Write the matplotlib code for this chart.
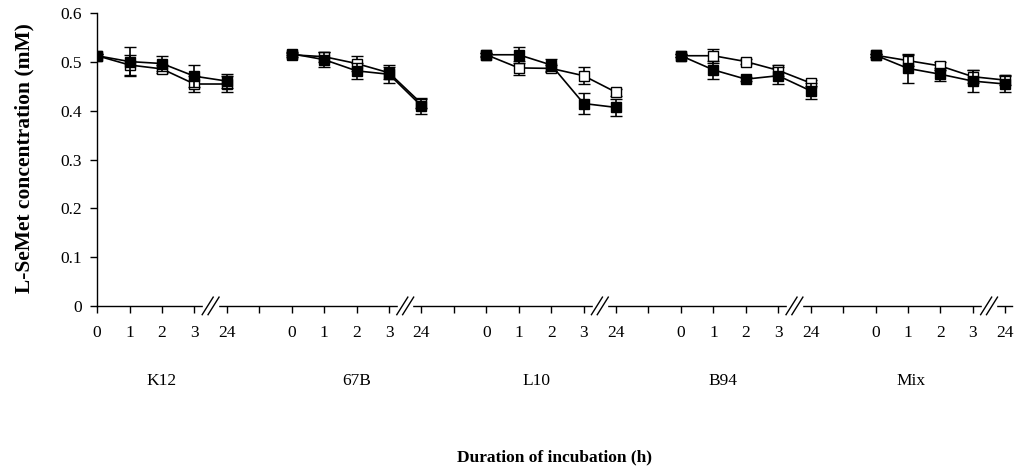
import numpy as np
import matplotlib
matplotlib.use("Agg")
from matplotlib import pyplot as plt
from matplotlib.transforms import blended_transform_factory

plt.rcParams['font.family'] = ['Liberation Serif', 'DejaVu Serif']

strains = ["K12", "67B", "L10", "B94", "Mix"]
times = ["0", "1", "2", "3", "24"]

# open squares
open_mean = [
    [0.513, 0.494, 0.486, 0.455, 0.455],
    [0.515, 0.511, 0.497, 0.478, 0.415],
    [0.515, 0.488, 0.487, 0.472, 0.438],
    [0.513, 0.513, 0.501, 0.483, 0.457],
    [0.514, 0.503, 0.492, 0.470, 0.463],
]
open_err = [
    [0.003, 0.020, 0.008, 0.016, 0.016],
    [0.004, 0.010, 0.016, 0.012, 0.010],
    [0.004, 0.015, 0.008, 0.017, 0.007],
    [0.003, 0.014, 0.005, 0.011, 0.007],
    [0.003, 0.011, 0.009, 0.013, 0.010],
]
# filled squares
filled_mean = [
    [0.513, 0.501, 0.497, 0.471, 0.461],
    [0.517, 0.505, 0.482, 0.475, 0.410],
    [0.515, 0.515, 0.494, 0.415, 0.407],
    [0.513, 0.484, 0.465, 0.472, 0.441],
    [0.514, 0.487, 0.475, 0.461, 0.455],
]
filled_err = [
    [0.003, 0.030, 0.015, 0.023, 0.014],
    [0.003, 0.016, 0.017, 0.018, 0.017],
    [0.003, 0.016, 0.012, 0.021, 0.018],
    [0.003, 0.018, 0.004, 0.018, 0.017],
    [0.003, 0.030, 0.013, 0.022, 0.016],
]

slots_per_group = len(times) + 1
last_slot = slots_per_group * len(strains) - 2   # 28

fig = plt.figure(figsize=(10.22, 4.75), dpi=100)
ax = fig.add_axes([0.095, 0.356, 0.895, 0.616])

for g in range(len(strains)):
    x = g * slots_per_group + np.arange(len(times))
    ax.errorbar(x, open_mean[g], yerr=open_err[g], color='black', lw=1.2,
                marker='s', ms=6.5, mfc='white', mec='black', mew=1.0,
                capsize=4, capthick=1.2, elinewidth=1.2, zorder=3)
    ax.errorbar(x, filled_mean[g], yerr=filled_err[g], color='black', lw=1.2,
                marker='s', ms=6.5, mfc='black', mec='black', mew=1.0,
                capsize=4, capthick=1.2, elinewidth=1.2, zorder=4)

ax.set_xlim(0, last_slot + 0.2)
ax.set_ylim(0, 0.6)
ax.set_yticks(np.arange(0, 0.61, 0.1))
ax.set_yticklabels(["0", "0.1", "0.2", "0.3", "0.4", "0.5", "0.6"])
ax.set_xticks(np.arange(last_slot + 1))
labels = (times + [""]) * len(strains)
ax.set_xticklabels(labels[:last_slot + 1])
ax.tick_params(axis='both', direction='out', length=5, width=1, labelsize=12.5, color='black')
ax.tick_params(axis='x', pad=9)
ax.tick_params(axis='y', pad=6)
for side in ['top', 'right']:
    ax.spines[side].set_visible(False)
for side in ['left', 'bottom']:
    ax.spines[side].set_linewidth(1)

# axis breaks between 3 and 24
trans = blended_transform_factory(ax.transData, ax.transAxes)
for g in range(len(strains)):
    xb = g * slots_per_group + 3.5
    ax.fill_between([xb - 0.22, xb + 0.22], -0.01, 0.01, color='white',
                    transform=trans, clip_on=False, zorder=5)
    for dx in (-0.09, 0.09):
        ax.plot([xb + dx - 0.17, xb + dx + 0.17], [-0.03, 0.03], color='black',
                lw=1, transform=trans, clip_on=False, zorder=6)

# group labels (placed by hand in the original)
label_slots = [2.0, 8.0, 13.55, 19.3, 25.1]
for name, xc in zip(strains, label_slots):
    ax.text(xc, -0.255, name, transform=trans, ha='center', va='center', fontsize=12.5)

fig.text(0.543, 0.038, "Duration of incubation (h)", ha='center', va='center',
         fontsize=12.5, fontweight='bold')
fig.text(0.024, 0.668, "L-SeMet concentration (mM)", ha='center', va='center',
         rotation=90, fontsize=15.5, fontweight='bold')

fig.savefig("out.png", dpi=100)
